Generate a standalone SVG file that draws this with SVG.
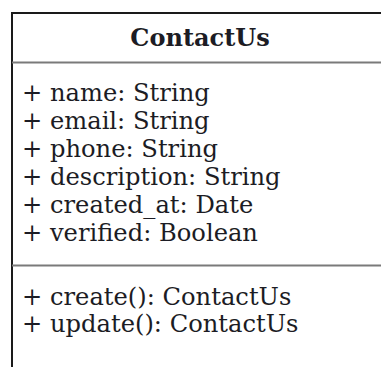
<svg xmlns="http://www.w3.org/2000/svg" width="381" height="367" viewBox="0 0 381 367">
  <style>
    .frame { fill: #ffffff; stroke: #1a1a1a; stroke-width: 2; }
    .sep { stroke: #7a7a7a; stroke-width: 2; }
    .title { font-family: "DejaVu Serif", "Liberation Serif", serif; font-size: 24px; font-weight: bold; fill: #1c1c24; text-anchor: middle; }
    .member { font-family: "DejaVu Serif", "Liberation Serif", serif; font-size: 24.2px; fill: #1c1c24; }
  </style>
  <rect width="381" height="367" fill="#ffffff"/>
  <g id="ContactUs">
    <rect class="frame" x="12" y="13" width="378" height="370"/>
    <text class="title" x="200" y="46">ContactUs</text>
    <line class="sep" x1="12" y1="62.5" x2="390" y2="62.5"/>
    <text class="member" x="22" y="101">+ name: String</text>
    <text class="member" x="22" y="128.9">+ email: String</text>
    <text class="member" x="22" y="156.8">+ phone: String</text>
    <text class="member" x="22" y="184.7">+ description: String</text>
    <text class="member" x="22" y="212.6">+ created_at: Date</text>
    <text class="member" x="22" y="240.5">+ verified: Boolean</text>
    <line class="sep" x1="12" y1="265.5" x2="390" y2="265.5"/>
    <text class="member" x="22" y="304.5">+ create(): ContactUs</text>
    <text class="member" x="22" y="332">+ update(): ContactUs</text>
  </g>
  <g id="connectors"/>
</svg>
